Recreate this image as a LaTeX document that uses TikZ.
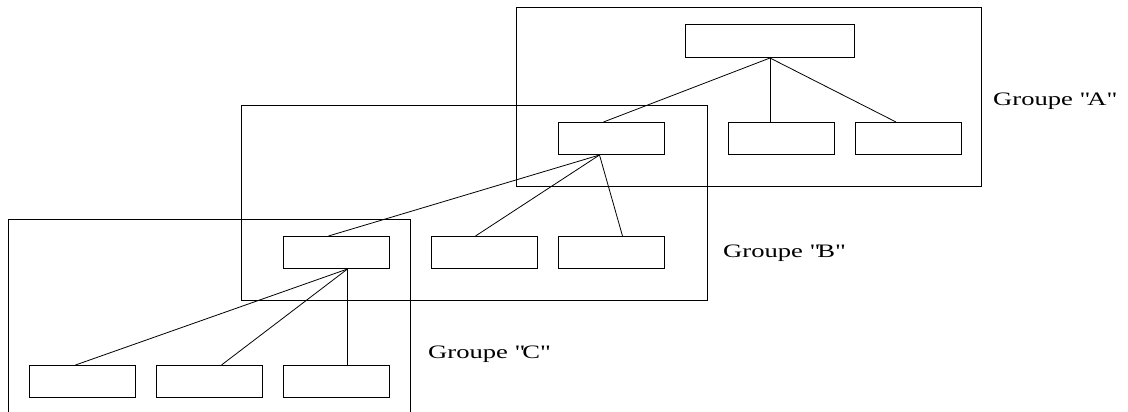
\documentclass[tikz,border=0pt]{standalone}
\usepackage{fontspec}
\setmainfont{Liberation Serif}[FakeStretch=1.4]
\begin{document}
\begin{tikzpicture}[x=1pt,y=-1pt,
  grp/.style={draw,line width=1pt},
  unit/.style={draw,line width=1pt,rectangle,inner sep=0pt,minimum width=106pt,minimum height=32pt,anchor=north west},
  link/.style={line width=0.8pt},
  lbl/.style={anchor=west,inner sep=0pt,font=\fontsize{19}{19}\selectfont}]
\clip (0,0) rectangle (1128,412);
\useasboundingbox (0,0) rectangle (1128,412);
% group frames
\draw[grp] (516,8) rectangle (981,186);
\draw[grp] (241,106) rectangle (707,300);
\draw[grp] (8,219) rectangle (410,420);
% boxes
\node[unit,minimum width=169pt,minimum height=33pt] (top) at (685,24) {};
\node[unit] (a1) at (558,122) {};
\node[unit] (a2) at (728,122) {};
\node[unit] (a3) at (855,122) {};
\node[unit] (b1) at (283,236) {};
\node[unit] (b2) at (431,236) {};
\node[unit] (b3) at (558,236) {};
\node[unit] (c1) at (29,365) {};
\node[unit] (c2) at (156,365) {};
\node[unit] (c3) at (283,365) {};
% connectors
\draw[link] (top.south) -- ([xshift=-8pt]a1.north);
\draw[link] (top.south) -- (top.south |- a2.north);
\draw[link] (top.south) -- ([xshift=-12.5pt]a3.north);
\draw[link] ([xshift=-12pt]a1.south) -- ([xshift=-8pt]b1.north);
\draw[link] ([xshift=-12pt]a1.south) -- ([xshift=-9pt]b2.north);
\draw[link] ([xshift=-12pt]a1.south) -- ([xshift=11pt]b3.north);
\draw[link] ([xshift=11pt]b1.south) -- ([xshift=-7pt]c1.north);
\draw[link] ([xshift=11pt]b1.south) -- ([xshift=12pt]c2.north);
\draw[link] ([xshift=11pt]b1.south) -- ([xshift=11pt]c3.north);
% labels
\node[lbl] (la) at (993,101) {Groupe \textquotedbl A\textquotedbl};
\node[lbl] (lb) at (723,253) {Groupe \textquotedbl B\textquotedbl};
\node[lbl] (lc) at (428,354) {Groupe \textquotedbl C\textquotedbl};
\end{tikzpicture}
\end{document}
